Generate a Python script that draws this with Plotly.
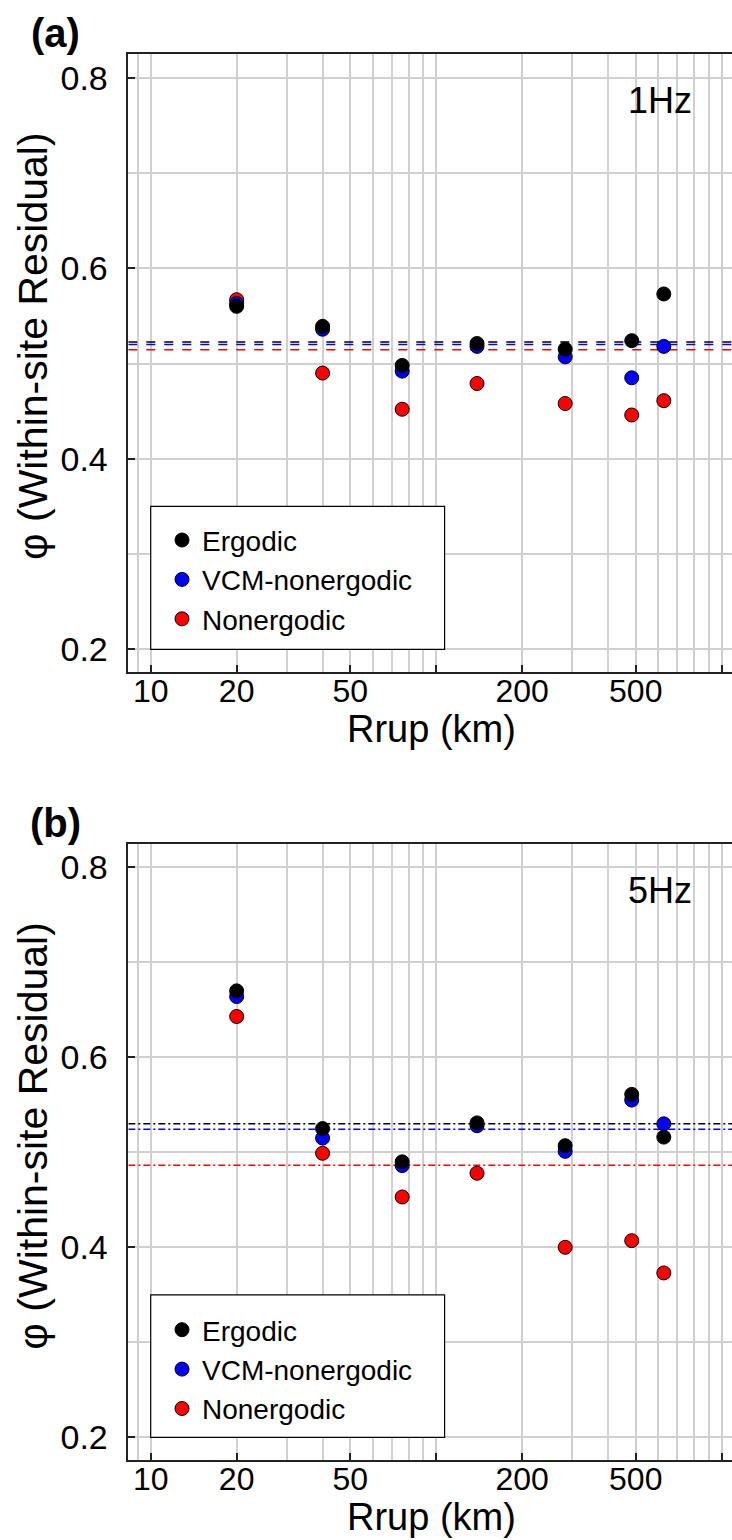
import math
import plotly.graph_objects as go

# ---------------- data ----------------
rrup = [20, 40, 76, 139, 283, 484, 627]

a_ergodic = [0.560, 0.539, 0.498, 0.521, 0.515, 0.524, 0.573]
a_vcm = [0.563, 0.536, 0.492, 0.518, 0.507, 0.485, 0.518]
a_nonergodic = [0.567, 0.490, 0.452, 0.479, 0.458, 0.446, 0.461]
a_means = [0.5226, 0.5200, 0.5145]   # ergodic, vcm, nonergodic

b_ergodic = [0.670, 0.525, 0.490, 0.531, 0.507, 0.561, 0.516]
b_vcm = [0.664, 0.515, 0.486, 0.528, 0.501, 0.555, 0.530]
b_nonergodic = [0.643, 0.499, 0.453, 0.478, 0.400, 0.407, 0.373]
b_means = [0.5300, 0.5243, 0.4863]

series_names = ["Ergodic", "VCM-nonergodic", "Nonergodic"]
series_colors = ["#000000", "#0000ff", "#ff0000"]
panel_labels = ["(a)", "(b)"]
freq_labels = ["1Hz", "5Hz"]

x_tickvals = [10, 20, 50, 100, 200, 500, 1000]
x_ticktext = ["10", "20", "50", "", "200", "500", ""]
x_minorvals = [9, 30, 40, 60, 70, 80, 90, 300, 400, 600, 700, 800, 900]
y_tickvals = [0.2, 0.4, 0.6, 0.8]
y_ticktext = ["0.2", "0.4", "0.6", "0.8"]

# ---------------- layout geometry ----------------
W, H = 732, 1540
FONT = "Liberation Sans, Arial, sans-serif"
x_left_px, x_right_px = 128.3, 732.0
panels_px = [(54.3, 671.7), (844.0, 1459.6)]  # (top, bottom) pixel
x_range = [0.9215, 3.0361]
y_range = [0.1765, 0.8246]
x_ends = [10 ** x_range[0], 10 ** x_range[1]]

fig = go.Figure()

panel_data = [
    (a_ergodic, a_vcm, a_nonergodic, a_means, "dash"),
    (b_ergodic, b_vcm, b_nonergodic, b_means, "7px,3px,2px,3px"),
]

for p, (erg, vcm, non, means, dashstyle) in enumerate(panel_data):
    xa = "x" if p == 0 else "x2"
    ya = "y" if p == 0 else "y2"
    lg = "legend" if p == 0 else "legend2"
    # mean lines (drawn first, below markers)
    for i in range(3):
        fig.add_trace(go.Scatter(
            x=x_ends, y=[means[i], means[i]], mode="lines",
            line=dict(color=series_colors[i], width=1.5, dash=dashstyle),
            xaxis=xa, yaxis=ya, showlegend=False, hoverinfo="skip",
        ))
    ys = [erg, vcm, non]
    # draw nonergodic first so ergodic ends on top
    for i in [2, 1, 0]:
        fig.add_trace(go.Scatter(
            x=rrup, y=ys[i], mode="markers", name=series_names[i],
            marker=dict(color=series_colors[i], size=14,
                        line=dict(color="#000000", width=1)),
            xaxis=xa, yaxis=ya, legend=lg, showlegend=True,
        ))

axis_common_x = dict(
    type="log", range=x_range, showline=True, linecolor="#222222", linewidth=1.5,
    mirror=True, ticks="inside", ticklen=7, tickwidth=1.5, tickcolor="#222222",
    tickmode="array", tickvals=x_tickvals, ticktext=x_ticktext,
    tickfont=dict(family=FONT, size=32, color="#000000"),
    showgrid=True, gridcolor="#d0d0d0", gridwidth=1.5, zeroline=False,
    minor=dict(tickmode="array", tickvals=x_minorvals, showgrid=True,
               gridcolor="#d0d0d0", gridwidth=1.5, ticks=""),
    automargin=False, ticklabelstandoff=-10,
)
axis_common_y = dict(
    range=y_range, showline=True, linecolor="#222222", linewidth=1.5,
    mirror=False, ticks="inside", ticklen=7, tickwidth=1.5, tickcolor="#222222",
    tickmode="array", tickvals=y_tickvals, ticktext=y_ticktext,
    tickfont=dict(family=FONT, size=34, color="#000000"),
    showgrid=True, gridcolor="#d0d0d0", gridwidth=1.5, zeroline=False,
    minor=dict(dtick=0.1, showgrid=True, gridcolor="#d0d0d0", gridwidth=1.5, ticks=""),
    automargin=False, ticklabelstandoff=12,
)

xdom = [x_left_px / W, x_right_px / W]
ydoms = [[1 - b / H, 1 - t / H] for (t, b) in panels_px]

fig.update_layout(
    width=W, height=H, margin=dict(l=0, r=0, t=0, b=0),
    paper_bgcolor="white", plot_bgcolor="white",
    font=dict(family=FONT, color="#000000"),
    xaxis=dict(axis_common_x, domain=xdom, anchor="y"),
    yaxis=dict(axis_common_y, domain=ydoms[0], anchor="x"),
    xaxis2=dict(axis_common_x, domain=xdom, anchor="y2"),
    yaxis2=dict(axis_common_y, domain=ydoms[1], anchor="x2"),
)

# legends + legend frames
legend_box_x = [10, 107]      # data x extent of legend frame
legend_box_y = [0.2, 0.35]    # data y extent of legend frame
def xfrac(v):
    return (math.log10(v) - x_range[0]) / (x_range[1] - x_range[0])

for p, (t, b) in enumerate(panels_px):
    xa = "x" if p == 0 else "x2"
    ya = "y" if p == 0 else "y2"
    fig.add_shape(type="rect", xref=f"{xa} domain", yref=ya,
                  x0=xfrac(legend_box_x[0]), x1=xfrac(legend_box_x[1]),
                  y0=legend_box_y[0], y1=legend_box_y[1], layer="above",
                  fillcolor="white", line=dict(color="#000000", width=1.2))
    leg = dict(x=162 / W, y=1 - (t + 461) / H, xanchor="left", yanchor="top",
               bgcolor="rgba(0,0,0,0)", borderwidth=0, traceorder="reversed",
               font=dict(family=FONT, size=28, color="#000000"))
    fig.update_layout(**{("legend" if p == 0 else "legend2"): leg})

    # panel label
    fig.add_annotation(text=f"<b>{panel_labels[p]}</b>", xref="paper", yref="paper",
                       x=55 / W, y=1 - (t - 21) / H, showarrow=False,
                       xanchor="center", yanchor="middle",
                       font=dict(family=FONT, size=40, color="#000000"))
    # frequency label
    fig.add_annotation(text=freq_labels[p], xref=f"{xa} domain", yref=f"{ya} domain",
                       x=0.88, y=0.9247, showarrow=False,
                       xanchor="center", yanchor="middle",
                       font=dict(family=FONT, size=36, color="#000000"))
    # x-axis title
    fig.add_annotation(text="Rrup (km)", xref="paper", yref="paper",
                       x=431 / W, y=1 - (b + 57.5) / H, showarrow=False,
                       xanchor="center", yanchor="middle",
                       font=dict(family=FONT, size=38, color="#000000"))
    # y-axis title
    fig.add_annotation(text="φ (Within-site Residual)", xref="paper", yref="paper",
                       x=33 / W, y=1 - (t + 291.7) / H, showarrow=False, textangle=-90,
                       xanchor="center", yanchor="middle",
                       font=dict(family=FONT, size=41, color="#000000"))

fig.write_html("out.html")
